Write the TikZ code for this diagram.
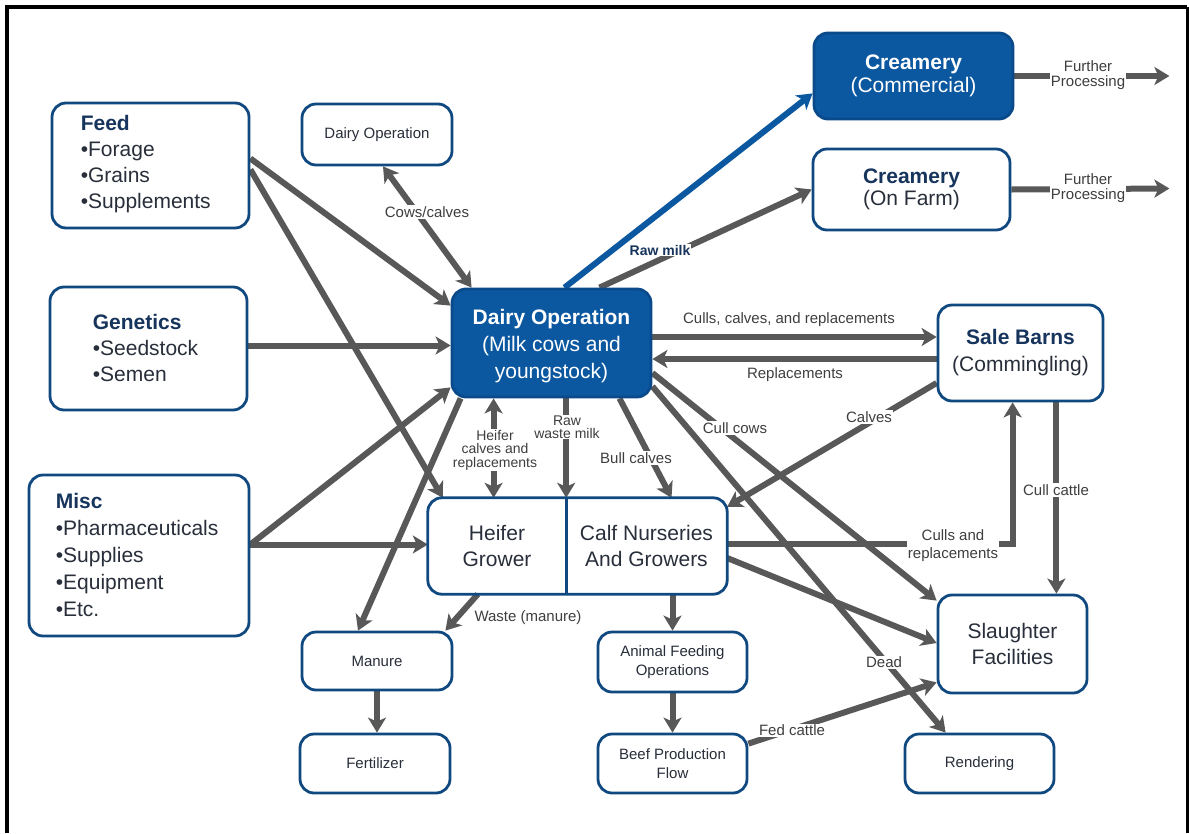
\documentclass[tikz,border=0pt]{standalone}
\usepackage{fontspec}
\setmainfont{Liberation Sans}
\usetikzlibrary{arrows.meta,calc}
\definecolor{navy}{RGB}{16,72,128}
\definecolor{fillblue}{RGB}{12,88,160}
\definecolor{filledge}{RGB}{10,74,138}
\definecolor{headc}{RGB}{22,52,92}
\definecolor{bodyc}{RGB}{40,46,58}
\definecolor{arrc}{RGB}{88,88,88}
\definecolor{labc}{RGB}{62,62,62}
\pgfdeclarelayer{bg}
\pgfsetlayers{bg,main}
\begin{document}
\begin{tikzpicture}[x=1pt,y=-1pt,
  box/.style={draw=navy,line width=2.8pt,rounded corners=14pt,fill=white,inner sep=0pt,align=center},
  solidbox/.style={box,fill=fillblue,draw=filledge,text=white},
  bigtxt/.style={font=\fontsize{21}{26}\selectfont,text=bodyc},
  smalltxt/.style={font=\fontsize{15}{19}\selectfont,text=bodyc},
  tipx/.tip={Stealth[length=15pt,width=18pt,inset=4pt]},
  flow/.style={draw=arrc,line width=6pt,-tipx},
  biflow/.style={draw=arrc,line width=6pt,tipx-tipx},
  lab/.style={font=\fontsize{15}{15}\selectfont,text=labc,fill=white,inner sep=1pt,align=center},
]
\useasboundingbox (0,0) rectangle (1189,833);
% frame
\draw[black,line width=4pt] (7,833) -- (7,7) -- (1187,7);
\draw[black,line width=3pt] (1187,7) -- (1187,833);

% boxes
\node[box,minimum width=197pt,minimum height=125pt] (feed) at (150.5,165.5) {};
\node[anchor=west,align=left,bigtxt,inner sep=0pt] (feedtxt) at ($(feed.west)+(30,-1)$)
  {{\color{headc}\bfseries Feed}\\•Forage\\•Grains\\•Supplements};
\node[box,minimum width=197pt,minimum height=123pt] (gen) at (148.5,348.5) {};
\node[anchor=west,align=left,bigtxt,inner sep=0pt] (gentxt) at ($(gen.west)+(44,-1)$)
  {{\color{headc}\bfseries Genetics}\\•Seedstock\\•Semen};
\node[box,minimum width=220pt,minimum height=161pt] (misc) at (139,555.5) {};
\node[anchor=west,align=left,bigtxt,font=\fontsize{21}{27}\selectfont,inner sep=0pt] (misctxt) at ($(misc.west)+(28,-1)$)
  {{\color{headc}\bfseries Misc}\\•Pharmaceuticals\\•Supplies\\•Equipment\\•Etc.};

\node[box,smalltxt,minimum width=150pt,minimum height=61pt] (dsmall) at (377,134.5) {Dairy Operation};

\node[solidbox,font=\fontsize{21}{27}\selectfont,minimum width=199pt,minimum height=108pt] (dairy) at (551.5,343) {};
\node[font=\fontsize{21}{27}\selectfont,text=white,align=center,inner sep=0pt] (dairytxt) at ($(dairy.center)+(0,3)$)
  {{\bfseries Dairy Operation}\\(Milk cows and\\youngstock)};

\node[solidbox,font=\fontsize{21}{23}\selectfont,minimum width=199pt,minimum height=86pt] (cc) at (913.5,76)
  {{\bfseries Creamery}\\(Commercial)};
\node[box,font=\fontsize{21}{22}\selectfont,text=bodyc,minimum width=197pt,minimum height=81pt] (cof) at (911.5,189.5)
  {{\color{headc}\bfseries Creamery}\\(On Farm)};
\node[box,font=\fontsize{21}{27}\selectfont,text=bodyc,minimum width=165pt,minimum height=96pt] (sb) at (1020.5,353)
  {{\color{headc}\bfseries Sale Barns}\\(Commingling)};

\node[bigtxt,inner sep=0pt,align=center,minimum width=138pt,minimum height=96pt] (hg) at (497,546) {Heifer\\Grower};
\node[bigtxt,inner sep=0pt,align=center,minimum width=161pt,minimum height=96pt] (cn) at (646.5,546) {Calf Nurseries\\And Growers};
\draw[navy,line width=2.8pt,rounded corners=14pt] (hg.north west) rectangle (cn.south east);
\draw[navy,line width=2.8pt] (hg.north east) -- (hg.south east);

\node[box,bigtxt,minimum width=149pt,minimum height=98pt] (sl) at (1012.5,644) {Slaughter\\Facilities};

\node[box,smalltxt,minimum width=150pt,minimum height=58pt] (man) at (377,661) {Manure};
\node[box,smalltxt,minimum width=150pt,minimum height=59pt] (fert) at (375,763.5) {Fertilizer};
\node[box,smalltxt,minimum width=149pt,minimum height=60pt] (afo) at (672.5,662) {Animal Feeding\\Operations};
\node[box,smalltxt,minimum width=149pt,minimum height=59pt] (beef) at (672.5,763.5) {Beef Production\\Flow};
\node[box,smalltxt,minimum width=149pt,minimum height=59pt] (rend) at (979.5,763.5) {Rendering};

% connectors
\coordinate (g1) at ($(gen.east)+(0,-3)$);
\coordinate (m1) at ($(misc.east)+(0,-11)$);
\coordinate (ha) at ($(dairy.south west)+(43,0)$);
\coordinate (cb) at ($(sb.south east)+(-48,0)$);
\coordinate (fp1) at ($(cc.east)+(155,0)$);
\coordinate (fp2) at ($(cof.east)+(158,-1)$);
\coordinate (d1) at ($(dairy.east)+(0,-6)$);
\coordinate (s1) at ($(sb.west)+(0,6)$);
\begin{pgfonlayer}{bg}
\draw[biflow] ($(dsmall.south)+(6,0)$) -- ($(dairy.north west)+(21,0)$);
\draw[flow] ($(feed.east)+(0,-7)$) -- ($(dairy.north west)+(0,18)$);
\draw[flow] ($(feed.east)+(0,4)$) -- ($(hg.north west)+(15,0)$);
\draw[flow] (g1) -- (g1 -| dairy.west);
\draw[flow] (m1) -- ($(dairy.south west)+(0,-11)$);
\draw[flow] (m1) -- (m1 -| hg.west);
\draw[flow] ($(dairy.south west)+(10,0)$) -- ($(man.north)+(-19,0)$);
\draw[flow,draw=fillblue] ($(dairy.north)+(13,0)$) -- ($(cc.south west)+(0,-27)$);
\draw[flow] ($(dairy.north)+(48,0)$) -- (cof.west);
\draw[flow] (d1) -- (d1 -| sb.west);
\draw[flow] (s1) -- (s1 -| dairy.east);
\draw[biflow] (ha) -- (ha |- hg.north);
\draw[flow] (hg.north east |- dairy.south) -- (hg.north east);
\draw[flow] ($(dairy.south)+(68,0)$) -- ($(cn.north)+(25,0)$);
\draw[flow] ($(dairy.east)+(0,30)$) -- ($(sl.north west)+(0,7)$);
\draw[flow] ($(dairy.south east)+(0,-12)$) -- ($(rend.north west)+(42,0)$);
\draw[flow] ($(sb.west)+(0,30)$) -- ($(cn.north east)+(0,9)$);
\draw[flow] ($(cn.east)+(0,-2)$) -| ($(sb.south west)+(76,0)$);
\draw[flow] (cb) -- (cb |- sl.north);
\draw[flow] ($(cn.east)+(0,12)$) -- ($(sl.west)+(0,-1)$);
\draw[flow] (afo.north |- cn.south) -- (afo.north);
\draw[flow] (afo.south) -- (beef.north);
\draw[flow] ($(beef.north east)+(0,11)$) -- ($(sl.south west)+(0,-12)$);
\draw[flow] (man.south) -- (man.south |- fert.north);
\draw[flow] ($(hg.south west)+(50,0)$) -- ($(man.north east)+(-8,0)$);
\draw[flow] (cc.east) -- (fp1);
\draw[flow] (cof.east) -- (fp2);
\end{pgfonlayer}

% labels
\node[lab] (l1) at (427,212) {Cows/calves};
\node[lab,font=\fontsize{14}{14}\selectfont\bfseries,text=headc] (l2) at (660,250) {Raw milk};
\node[lab,fill=none] (l3) at (789,320) {Culls, calves, and replacements};
\node[lab,fill=none] (l4) at (795,375) {Replacements};
\node[lab,font=\fontsize{14}{13.6}\selectfont] (l5) at (495,450) {Heifer\\calves and\\replacements};
\node[lab,font=\fontsize{14}{13}\selectfont] (l6) at (567,427) {Raw\\waste milk};
\node[lab] (l7) at (636,458) {Bull calves};
\node[lab] (l8) at (735,428) {Cull cows};
\node[lab] (l9) at (869,417) {Calves};
\node[lab,font=\fontsize{15}{18}\selectfont] (l10) at (953,546) {Culls and\\replacements};
\node[lab] (l11) at (1056,490) {Cull cattle};
\node[lab] (l12) at (884,662) {Dead};
\node[lab] (l13) at (792,730) {Fed cattle};
\node[lab,fill=none] (l14) at (528,618) {Waste (manure)};
\node[lab,font=\fontsize{15}{15}\selectfont] (l15) at (1088,75) {Further\\Processing};
\node[lab,font=\fontsize{15}{15}\selectfont] (l16) at (1088,188) {Further\\Processing};
\end{tikzpicture}
\end{document}
